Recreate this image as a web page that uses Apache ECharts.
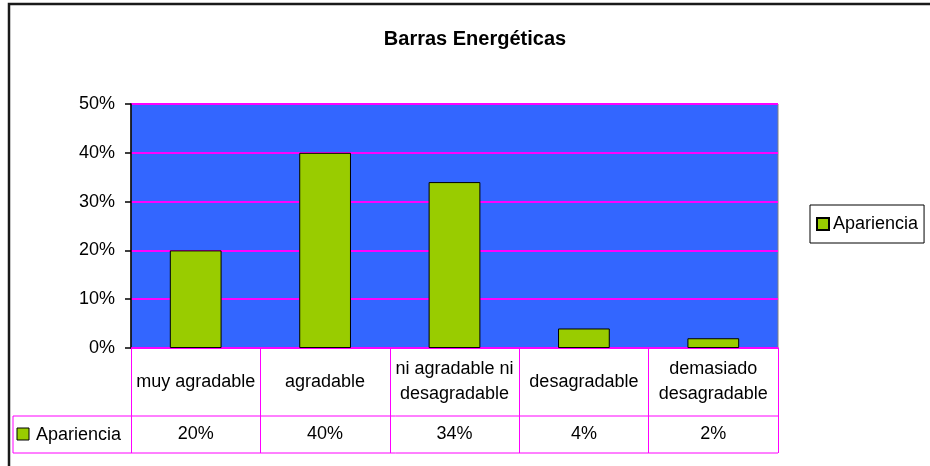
<!DOCTYPE html>
<html>
<head>
<meta charset="utf-8">
<title>Barras Energéticas</title>
<script src="https://cdn.jsdelivr.net/npm/echarts@6/dist/echarts.min.js"></script>
<style>
  html, body { margin: 0; padding: 0; background: #fff; }
  #chart { width: 930px; height: 466px; }
</style>
</head>
<body>
<div id="chart"></div>
<script>
// datos
var categorias = ['muy agradable', 'agradable', 'ni agradable ni\ndesagradable', 'desagradable', 'demasiado\ndesagradable']
var apariencia = [20, 40, 34, 4, 2]
var serieNombre = 'Apariencia'
var yTicks = [0, 10, 20, 30, 40, 50]

var fuente = 'Liberation Sans'
var magenta = '#FF00FF'
var verde = '#99CC00'

var chart = echarts.init(document.getElementById('chart'))

var option = {
  animation: false,
  backgroundColor: '#fff',
  textStyle: { fontFamily: fuente },
  title: {
    text: 'Barras Energéticas',
    left: 470,
    textAlign: 'center',
    top: 24,
    textStyle: { fontFamily: fuente, fontSize: 20, fontWeight: 'bold', color: '#000' }
  },
  legend: {
    data: [serieNombre],
    left: 810,
    top: 205,
    orient: 'vertical',
    padding: [10, 6],
    itemWidth: 12,
    itemHeight: 12,
    itemGap: 5,
    icon: 'rect',
    borderColor: '#000',
    borderWidth: 1,
    textStyle: { fontFamily: fuente, fontSize: 18, color: '#000', padding: [0, 0, 0, -1] }
  },
  grid: {
    left: 131,
    right: 152,
    top: 104,
    bottom: 118,
    show: true,
    backgroundColor: '#3366FF',
    borderColor: '#808080',
    borderWidth: 1
  },
  xAxis: [
    {
      type: 'category',
      data: categorias,
      position: 'bottom',
      axisLine: { lineStyle: { color: magenta, width: 1.5 } },
      axisTick: { show: true, length: 105, lineStyle: { color: magenta, width: 1 } },
      axisLabel: {
        color: '#000',
        fontFamily: fuente,
        fontSize: 18,
        lineHeight: 25,
        verticalAlign: 'middle',
        margin: 34,
        interval: 0
      }
    },
    {
      type: 'category',
      data: apariencia.map(function (v) { return v + '%' }),
      position: 'bottom',
      axisLine: { show: false },
      axisTick: { show: false },
      axisLabel: {
        color: '#000',
        fontFamily: fuente,
        fontSize: 18,
        verticalAlign: 'middle',
        margin: 86,
        interval: 0
      }
    }
  ],
  yAxis: {
    type: 'value',
    min: yTicks[0],
    max: yTicks[yTicks.length - 1],
    interval: 10,
    axisLine: { show: true, lineStyle: { color: '#000', width: 1.5 } },
    axisTick: { show: true, length: 6, lineStyle: { color: '#000', width: 1.5 } },
    axisLabel: {
      formatter: '{value}%',
      color: '#000',
      fontFamily: fuente,
      fontSize: 18,
      margin: 16
    },
    splitLine: { show: true, lineStyle: { color: magenta, width: 1.8 } }
  },
  series: [
    {
      name: serieNombre,
      type: 'bar',
      data: apariencia,
      barWidth: '40%',
      itemStyle: { color: verde, borderColor: '#000', borderWidth: 1 }
    }
  ],
  graphic: [
    // marco exterior
    { type: 'rect', shape: { x: 9, y: 4, width: 1000, height: 1000 }, style: { fill: 'none', stroke: '#1a1a1a', lineWidth: 2.5 }, silent: true },
    // líneas de la tabla de datos
    { type: 'line', shape: { x1: 13, y1: 416, x2: 778, y2: 416 }, style: { stroke: magenta, lineWidth: 1 } },
    { type: 'line', shape: { x1: 13, y1: 453, x2: 778, y2: 453 }, style: { stroke: magenta, lineWidth: 1 } },
    { type: 'line', shape: { x1: 13, y1: 416, x2: 13, y2: 453 }, style: { stroke: magenta, lineWidth: 1 } },
    // leyenda de la tabla
    { type: 'rect', shape: { x: 17, y: 428, width: 12, height: 12 }, style: { fill: verde, stroke: '#000', lineWidth: 1 } },
    {
      type: 'text', left: 36, top: 426,
      style: { text: serieNombre, fontFamily: fuente, fontSize: 18, fill: '#000' }
    }
  ]
}

chart.setOption(option)
</script>
</body>
</html>
